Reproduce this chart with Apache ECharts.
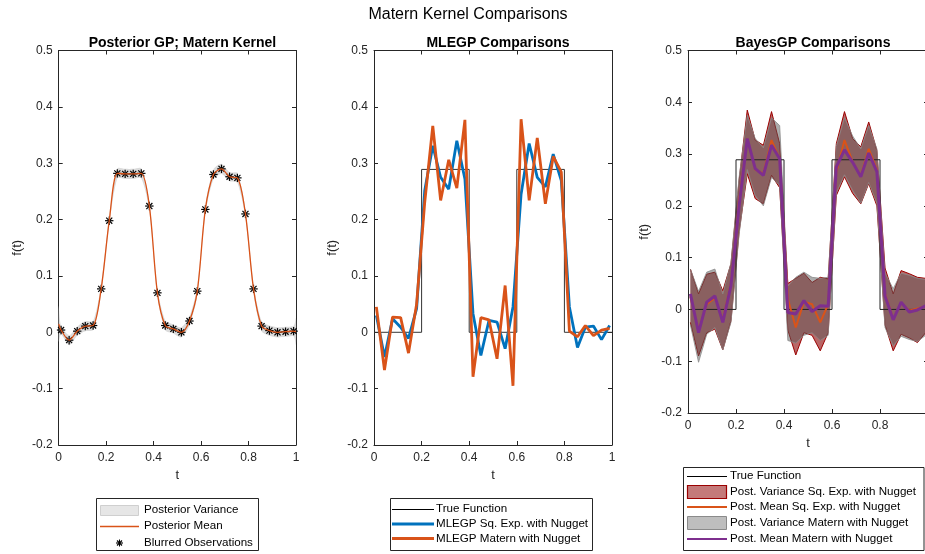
<!DOCTYPE html>
<html><head><meta charset="utf-8">
<script src="https://cdn.jsdelivr.net/npm/echarts@6/dist/echarts.min.js"></script>
<style>html,body{margin:0;padding:0;background:#fff}#c{width:925px;height:554px}</style>
</head><body><div id="c"></div>
<script>
// ---------- data ----------
const tGrid = [0.010,0.044,0.078,0.112,0.145,0.179,0.213,0.247,0.280,0.314,0.348,0.382,0.416,0.449,0.483,0.517,0.551,0.584,0.618,0.652,0.686,0.720,0.753,0.787,0.821,0.855,0.888,0.922,0.956,0.990];
const blurredObs = [0.004,-0.014,0.002,0.011,0.012,0.077,0.198,0.282,0.281,0.281,0.282,0.224,0.070,0.012,0.006,0.000,0.020,0.073,0.218,0.280,0.290,0.276,0.274,0.210,0.077,0.011,0.003,0.000,0.001,0.002];
const postT = [0.000,0.010,0.044,0.078,0.112,0.145,0.179,0.213,0.247,0.280,0.314,0.348,0.382,0.416,0.449,0.483,0.517,0.551,0.584,0.618,0.652,0.686,0.720,0.753,0.787,0.821,0.855,0.888,0.922,0.956,0.990,1.000];
const postMean = [0.015,0.004,-0.014,0.002,0.011,0.012,0.077,0.198,0.282,0.281,0.281,0.282,0.224,0.070,0.012,0.006,0.000,0.020,0.073,0.218,0.280,0.290,0.276,0.274,0.210,0.077,0.011,0.003,0.000,0.001,0.002,0.001];
const postSd = [0.032,0.008,0.009,0.008,0.009,0.008,0.008,0.008,0.009,0.009,0.009,0.009,0.008,0.008,0.009,0.008,0.009,0.008,0.008,0.008,0.009,0.009,0.008,0.009,0.008,0.008,0.009,0.009,0.009,0.009,0.009,0.024];

const trueT = [0,0.2,0.2,0.4,0.4,0.6,0.6,0.8,0.8,1];
const trueF = [0,0,0.289,0.289,0,0,0.289,0.289,0,0];
const trueT3 = [0.014,0.2,0.2,0.4,0.4,0.6,0.6,0.8,0.8,1];

const mleSqExp = [0.030,-0.044,0.024,0.009,-0.011,0.042,0.251,0.331,0.275,0.254,0.340,0.272,0.033,-0.041,0.021,0.018,-0.029,0.045,0.245,0.335,0.275,0.258,0.316,0.269,0.045,-0.027,0.009,0.011,-0.013,0.012];
const mleMatern = [0.045,-0.067,0.027,0.026,-0.037,0.050,0.230,0.366,0.234,0.306,0.256,0.377,-0.079,0.026,0.022,-0.047,0.083,-0.095,0.378,0.234,0.345,0.228,0.312,0.284,0.002,-0.008,0.012,-0.006,0.004,0.007];

const bgSqExpMean = [0.025,-0.040,0.010,0.022,-0.020,0.050,0.210,0.330,0.270,0.262,0.327,0.290,0.020,-0.035,0.015,0.010,-0.025,0.010,0.265,0.327,0.285,0.258,0.310,0.270,0.030,-0.018,0.012,-0.002,0.002,0.006];
const bgMaternMean = [0.030,-0.045,0.014,0.026,-0.025,0.046,0.200,0.330,0.272,0.259,0.317,0.291,-0.006,-0.009,0.017,-0.004,0.007,0.006,0.275,0.308,0.284,0.256,0.302,0.266,0.026,-0.020,0.014,-0.005,-0.001,0.007];
const sqExpHi = [0.078,0.030,0.068,0.072,0.036,0.088,0.250,0.385,0.327,0.317,0.382,0.320,0.050,0.060,0.070,0.052,0.062,0.059,0.320,0.382,0.330,0.314,0.362,0.307,0.080,0.030,0.075,0.069,0.062,0.060];
const sqExpLo = [-0.025,-0.090,-0.045,-0.038,-0.078,-0.022,0.150,0.262,0.214,0.204,0.259,0.235,-0.040,-0.088,-0.045,-0.050,-0.080,-0.045,0.220,0.256,0.224,0.204,0.243,0.200,-0.030,-0.080,-0.048,-0.055,-0.064,-0.045];
const maternHi = [0.078,0.035,0.072,0.078,0.030,0.090,0.255,0.375,0.330,0.312,0.370,0.355,0.045,0.062,0.072,0.062,0.060,0.062,0.315,0.370,0.335,0.310,0.355,0.310,0.070,0.040,0.070,0.066,0.060,0.058];
const maternLo = [-0.030,-0.102,-0.048,-0.035,-0.078,-0.025,0.145,0.270,0.220,0.200,0.255,0.240,-0.060,-0.065,-0.050,-0.045,-0.060,-0.050,0.225,0.260,0.230,0.205,0.245,0.205,-0.035,-0.070,-0.052,-0.058,-0.062,-0.050];

const xTicks = [0, 0.2, 0.4, 0.6, 0.8, 1];
const yRange = [-0.2, 0.5];

// ---------- chart ----------
const FONT = '"Liberation Sans", Arial, Helvetica, sans-serif';
const AX = '#262626';
const chart = echarts.init(document.getElementById('c'));

const grids = [
  {left: 58.7, top: 50.5, width: 237.3, height: 394.5, outerBoundsMode: 'none'},
  {left: 374, top: 50.5, width: 238, height: 394.5, outerBoundsMode: 'none'},
  {left: 688, top: 50.5, width: 240, height: 362.5, outerBoundsMode: 'none'}
];
const nameGaps = [35, 35, 37];
const fmt = v => String(Math.round(v * 10) / 10);

const xAxes = [], yAxes = [];
grids.forEach((g, i) => {
  const base = {
    gridIndex: i, type: 'value', splitLine: {show: false},
    axisLine: {show: true, onZero: false, lineStyle: {color: AX, width: 1}},
    axisTick: {show: true, inside: true, length: 4, lineStyle: {color: AX, width: 1}}
  };
  xAxes.push(Object.assign({}, base, {
    position: 'bottom', min: xTicks[0], max: xTicks[xTicks.length - 1], interval: 0.2,
    axisLabel: {formatter: fmt, color: AX, fontSize: 12, fontFamily: FONT, margin: 7},
    name: 't', nameLocation: 'middle', nameGap: 21,
    nameTextStyle: {color: AX, fontSize: 13, fontFamily: FONT}
  }));
  xAxes.push(Object.assign({}, base, {
    position: 'top', min: xTicks[0], max: xTicks[xTicks.length - 1], interval: 0.2,
    axisLabel: {show: false}
  }));
  yAxes.push(Object.assign({}, base, {
    position: 'left', min: yRange[0], max: yRange[1], interval: 0.1,
    axisLabel: {formatter: fmt, color: AX, fontSize: 12, fontFamily: FONT, margin: 6},
    name: 'f(t)', nameLocation: 'middle', nameGap: nameGaps[i], nameRotate: 90,
    nameTextStyle: {color: AX, fontSize: 13, fontFamily: FONT}
  }));
  yAxes.push(Object.assign({}, base, {
    position: 'right', min: yRange[0], max: yRange[1], interval: 0.1,
    axisLabel: {show: false}
  }));
});

function ax(i) { return {xAxisIndex: 2 * i, yAxisIndex: 2 * i}; }
function pairs(ts, vs) { return ts.map((t, k) => [t, vs[k]]); }
function lineS(i, ts, vs, color, width, extra) {
  return Object.assign({type: 'line', data: pairs(ts, vs), symbol: 'none', silent: true,
    lineStyle: {color: color, width: width}, animation: false}, ax(i), extra || {});
}
// confidence band drawn as a polygon through the axes' coordinate system
function bandS(i, ts, lo, hi, fill, edge, edgeW, smooth) {
  return Object.assign({
    type: 'custom', silent: true, animation: false,
    data: [[ts[0], lo[0]]],
    renderItem: function (params, api) {
      const up = ts.map((t, k) => api.coord([t, hi[k]]));
      const dn = ts.map((t, k) => api.coord([t, lo[k]]));
      const children = [{
        type: 'polygon', shape: {points: up.concat(dn.slice().reverse()), smooth: smooth},
        style: {fill: fill, stroke: null}
      }];
      if (edgeW > 0) {
        children.push({type: 'polyline', shape: {points: up, smooth: smooth}, style: {stroke: edge, lineWidth: edgeW, fill: null}});
        children.push({type: 'polyline', shape: {points: dn, smooth: smooth}, style: {stroke: edge, lineWidth: edgeW, fill: null}});
      }
      return {type: 'group', children: children};
    }
  }, ax(i));
}
// asterisk markers
function starS(i, ts, vs, r) {
  return Object.assign({
    type: 'custom', silent: true, animation: false,
    data: pairs(ts, vs),
    renderItem: function (params, api) {
      const p = api.coord([api.value(0), api.value(1)]);
      const d = r * 0.72;
      const segs = [[0, -r, 0, r], [-r, 0, r, 0], [-d, -d, d, d], [-d, d, d, -d]];
      return {type: 'group', children: segs.map(s => ({
        type: 'line', shape: {x1: p[0] + s[0], y1: p[1] + s[1], x2: p[0] + s[2], y2: p[1] + s[3]},
        style: {stroke: '#000', lineWidth: 1.2}
      }))};
    }
  }, ax(i));
}

const postLo = postMean.map((m, k) => m - postSd[k]);
const postHi = postMean.map((m, k) => m + postSd[k]);

const series = [
  // panel 1
  bandS(0, postT, postLo, postHi, 'rgba(190,190,190,0.55)', '#ccc', 0, 0.25),
  lineS(0, postT, postMean, '#D95319', 1.3, {smooth: 0.3}),
  starS(0, tGrid, blurredObs, 4.2),
  // panel 2
  lineS(1, trueT, trueF, '#333', 1),
  lineS(1, tGrid, mleSqExp, '#0072BD', 2.8),
  lineS(1, tGrid, mleMatern, '#D95319', 2.8),
  // panel 3
  lineS(2, trueT3, trueF, '#222', 1),
  bandS(2, tGrid, sqExpLo, sqExpHi, 'rgba(140,0,0,0.6)', '#9b0000', 1, 0),
  lineS(2, tGrid, bgSqExpMean, '#D95319', 2),
  bandS(2, tGrid, maternLo, maternHi, 'rgba(90,90,90,0.5)', '#8a8a8a', 0.8, 0),
  lineS(2, tGrid, bgMaternMean, '#7E2F8E', 3)
];

// ---------- legends as graphic ----------
const LF = '11.6px ' + FONT;
function txt(x, y, s) {
  return {type: 'text', x: x, y: y, style: {text: s, font: LF, fill: '#000', align: 'left', verticalAlign: 'middle', textAlign: 'left', textVerticalAlign: 'middle'}, z: 100};
}
function ln(x1, y1, x2, y2, c, w) {
  return {type: 'line', shape: {x1: x1, y1: y1, x2: x2, y2: y2}, style: {stroke: c, lineWidth: w}, z: 100};
}
function box(x, y, w, h, fill, stroke, lw) {
  return {type: 'rect', shape: {x: x, y: y, width: w, height: h}, style: {fill: fill, stroke: stroke, lineWidth: lw}, z: 99};
}
const g = [];
// legend 1
g.push(box(96.5, 498.5, 162, 52, '#fff', '#262626', 1));
g.push(box(100.5, 505.5, 38, 10, '#e6e6e6', '#cfcfcf', 1));
g.push(txt(144, 510, 'Posterior Variance'));
g.push(ln(100, 526.5, 139, 526.5, '#D95319', 1.3));
g.push(txt(144, 526, 'Posterior Mean'));
[[0, -3.5, 0, 3.5], [-3.5, 0, 3.5, 0], [-2.5, -2.5, 2.5, 2.5], [-2.5, 2.5, 2.5, -2.5]].forEach(d =>
  g.push(ln(119.5 + d[0], 543 + d[1], 119.5 + d[2], 543 + d[3], '#000', 1.1)));
g.push(txt(144, 543, 'Blurred Observations'));
// legend 2
g.push(box(390.5, 498.5, 202, 52, '#fff', '#262626', 1));
g.push(ln(392, 509.5, 434, 509.5, '#000', 1));
g.push(txt(436, 509, 'True Function'));
g.push(ln(392, 524, 434, 524, '#0072BD', 2.8));
g.push(txt(436, 524, 'MLEGP Sq. Exp. with Nugget'));
g.push(ln(392, 538.5, 434, 538.5, '#D95319', 2.8));
g.push(txt(436, 538.5, 'MLEGP Matern with Nugget'));
// legend 3
g.push(box(683.5, 467.5, 240.5, 83, '#fff', '#262626', 1));
g.push(ln(687, 476.5, 727, 476.5, '#000', 1));
g.push(txt(730, 476, 'True Function'));
g.push(box(687.5, 485.5, 39, 13, 'rgb(196,122,122)', '#9b0000', 1.2));
g.push(txt(730, 492, 'Post. Variance Sq. Exp. with Nugget'));
g.push(ln(687, 507, 727, 507, '#D95319', 2.2));
g.push(txt(730, 507, 'Post. Mean Sq. Exp. with Nugget'));
g.push(box(687.5, 516.5, 39, 13, 'rgb(190,190,190)', '#8a8a8a', 1));
g.push(txt(730, 523, 'Post. Variance Matern with Nugget'));
g.push(ln(687, 539, 727, 539, '#7E2F8E', 2.2));
g.push(txt(730, 539, 'Post. Mean Matern with Nugget'));

chart.setOption({
  animation: false,
  backgroundColor: '#fff',
  title: [
    {text: 'Matern Kernel Comparisons', left: 463, top: 2, textAlign: 'center',
      textStyle: {fontSize: 16, fontWeight: 'normal', color: '#000', fontFamily: FONT}},
    {text: 'Posterior GP; Matern Kernel', left: 177.4, top: 31, textAlign: 'center',
      textStyle: {fontSize: 14, fontWeight: 'bold', color: '#000', fontFamily: FONT}},
    {text: 'MLEGP Comparisons', left: 493, top: 31, textAlign: 'center',
      textStyle: {fontSize: 14, fontWeight: 'bold', color: '#000', fontFamily: FONT}},
    {text: 'BayesGP Comparisons', left: 808, top: 31, textAlign: 'center',
      textStyle: {fontSize: 14, fontWeight: 'bold', color: '#000', fontFamily: FONT}}
  ],
  grid: grids,
  xAxis: xAxes,
  yAxis: yAxes,
  series: series,
  graphic: g
});
</script></body></html>
